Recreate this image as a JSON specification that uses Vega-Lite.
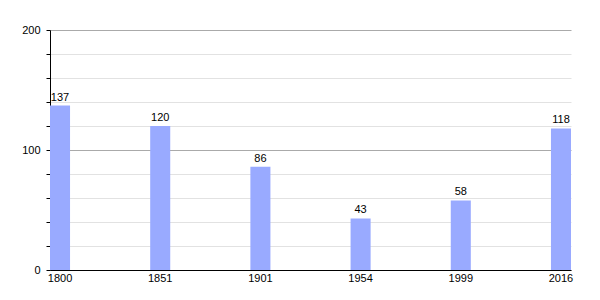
{
  "$schema": "https://vega.github.io/schema/vega-lite/v6.json",
  "width": 521,
  "height": 240,
  "autosize": "none",
  "padding": {"left": 50, "top": 30, "right": 29, "bottom": 30},
  "background": "white",
  "config": {"view": {"stroke": null}, "font": "Liberation Sans"},
  "data": {"values": [
    {"year": "1800", "pop": 137},
    {"year": "1851", "pop": 120},
    {"year": "1901", "pop": 86},
    {"year": "1954", "pop": 43},
    {"year": "1999", "pop": 58},
    {"year": "2016", "pop": 118}
  ]},
  "encoding": {
    "x": {"field": "year", "type": "ordinal", "sort": null,
      "scale": {"paddingInner": 0.8, "paddingOuter": 0},
      "axis": {"title": null, "labelAngle": 0, "ticks": false, "domainColor": "black", "domainWidth": 1,
        "labelFontSize": 11, "labelColor": "black", "labelPadding": 2, "labelFont": "Liberation Sans"}},
    "y": {"field": "pop", "type": "quantitative",
      "scale": {"domain": [0, 200], "nice": false},
      "axis": {"title": null, "values": [0, 20, 40, 60, 80, 100, 120, 140, 160, 180, 200],
        "labelExpr": "datum.value % 100 === 0 ? datum.label : ''",
        "grid": true,
        "gridColor": {"condition": {"test": "datum.value % 100 === 0", "value": "#aaaaaa"}, "value": "#e2e2e2"},
        "domainColor": "black", "tickColor": "black", "tickSize": 4,
        "labelFontSize": 11, "labelColor": "black", "labelPadding": 6, "labelFont": "Liberation Sans"}}
  },
  "layer": [
    {"mark": {"type": "bar", "color": "#99aaff"}},
    {"mark": {"type": "text", "baseline": "bottom", "dy": -3, "fontSize": 11, "color": "black", "font": "Liberation Sans"},
      "encoding": {"text": {"field": "pop", "type": "quantitative"}}}
  ]
}
